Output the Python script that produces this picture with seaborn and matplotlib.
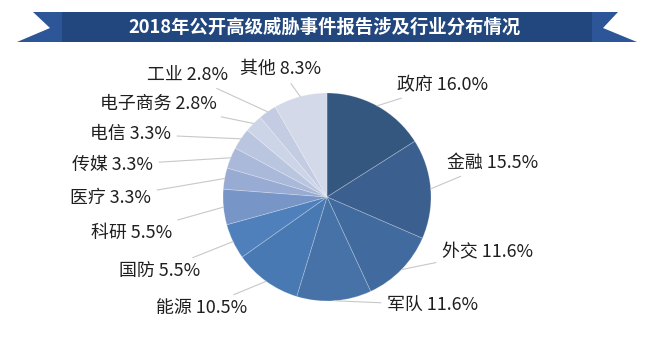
import numpy as np
import matplotlib
matplotlib.use("Agg")
import matplotlib.pyplot as plt
from matplotlib.patches import Polygon
import seaborn as sns

# ---- data ----
categories = ["政府", "金融", "外交", "军队", "能源", "国防", "科研", "医疗",
              "传媒", "电信", "电子商务", "工业", "其他"]
shares = [16.0, 15.5, 11.6, 11.6, 10.5, 5.5, 5.5, 3.3, 3.3, 3.3, 2.8, 2.8, 8.3]
title = "2018年公开高级威胁事件报告涉及行业分布情况"

# ---- style ----
colors = ["#34577F", "#3B5F8F", "#416A9E", "#4672A7", "#4979B2", "#4F80BC",
          "#7795C7", "#98ABD3", "#AAB8DA", "#BAC5DF", "#CCD4E7", "#C3CCE2", "#D3D9E8"]

sns.set_theme(style="white")
plt.rcParams["font.family"] = ["Noto Sans CJK SC", "DejaVu Sans"]

W, H = 651, 349
fig = plt.figure(figsize=(W / 100, H / 100), dpi=100)
ax = fig.add_axes([0, 0, 1, 1])

def py(y):  # pixel-from-top to data y
    return H - y

cx, cy, R = 327, py(197), 104
wedges, _ = ax.pie(shares, colors=colors, startangle=90, counterclock=False,
                   center=(cx, cy), radius=R,
                   wedgeprops=dict(edgecolor=(1, 1, 1, 0.25), linewidth=0.6))

# label layout (pixel anchor of text: x, y-from-top, horizontal alignment)
label_pos = [(397, 85, "left"), (447, 163, "left"), (442, 252, "left"), (387, 305, "left"),
             (247, 308, "right"), (200, 271, "right"), (172, 233, "right"), (151, 198, "right"),
             (153, 165, "right"), (171, 134, "right"), (217, 104, "right"), (228, 75, "right"),
             (240, 69, "left")]

cum = 0.0
total = sum(shares)
for cat, v, (tx, ty, ha) in zip(categories, shares, label_pos):
    mid = cum + v / 2
    cum += v
    ang = np.deg2rad(90 - 360 * mid / total)
    ex, ey = cx + R * np.cos(ang), cy + R * np.sin(ang)
    ax.annotate(f"{cat} {v:.1f}%", xy=(ex, ey), xytext=(tx, py(ty)),
                ha=ha, va="center", fontsize=12.9, color="#1F1F1F",
                arrowprops=dict(arrowstyle="-", color="#C8C8C8", lw=0.8,
                                shrinkA=2, shrinkB=0))

# title banner
main_c, tail_c = "#22467E", "#2C5698"
ax.add_patch(Polygon([(62, py(12)), (592, py(12)), (592, py(42)), (62, py(42))],
                     closed=True, color=main_c, lw=0))
ax.add_patch(Polygon([(33, py(12)), (62, py(12)), (62, py(42)), (17, py(42)), (50, py(28))],
                     closed=True, color=tail_c, lw=0))
ax.add_patch(Polygon([(618, py(12)), (592, py(12)), (592, py(42)), (637, py(42)), (603, py(28))],
                     closed=True, color=tail_c, lw=0))
ax.text(325, py(27), title, ha="center", va="center", fontsize=13.2,
        fontweight="bold", color="white")

ax.set_xlim(0, W)
ax.set_ylim(0, H)
ax.set_aspect("equal")
ax.axis("off")
fig.savefig("out.png", dpi=100, facecolor="white")
